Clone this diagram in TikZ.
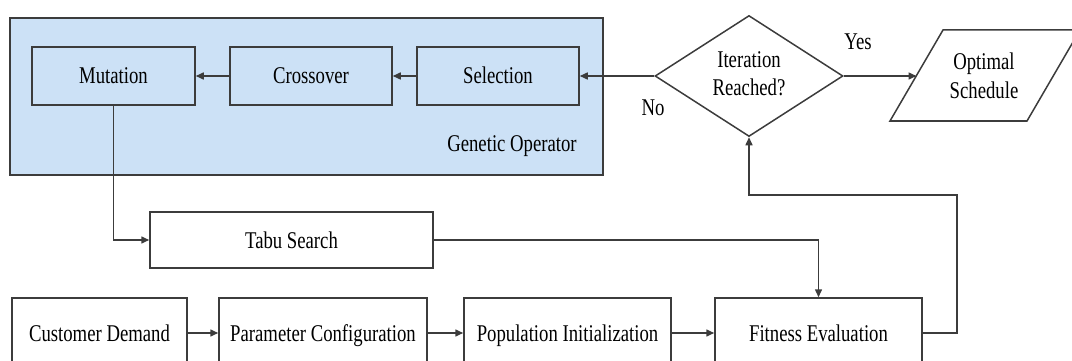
\documentclass[tikz,border=0pt]{standalone}
\usepackage{fontspec}
\usepackage{graphicx}
\setmainfont{Liberation Serif}
\usetikzlibrary{shapes.geometric,arrows.meta}
\definecolor{ln}{HTML}{3C3C3C}
\definecolor{gafill}{HTML}{CCE1F6}
\newcommand{\sq}[1]{\scalebox{0.78}[1]{#1}}
\newcommand{\sqtwo}[2]{\scalebox{0.78}[1]{\begin{tabular}{@{}c@{}}#1\\#2\end{tabular}}}
\tikzset{
  box/.style={draw=ln, line width=1.5pt, rectangle, inner sep=0pt, align=center, font=\fontsize{24}{28}\selectfont, text height=16pt, text depth=0pt},
  conn/.style={draw=ln, line width=1.5pt, -{Triangle[length=8pt,width=7pt]}},
  plain/.style={draw=ln, line width=1.5pt},
  lbl/.style={font=\fontsize{24}{28}\selectfont, inner sep=0pt, text height=16pt, text depth=0pt}
}
\begin{document}
\begin{tikzpicture}[x=1pt,y=-1pt]
\useasboundingbox (0,0) rectangle (1072,361);
\clip (0,0) rectangle (1072,361);
% genetic operator container
\node[draw=ln, line width=1.5pt, fill=gafill, minimum width=593pt, minimum height=157pt, inner sep=0pt] (genop) at (306.5,96.5) {};
\node[lbl] (genlbl) at (512,143) {\sq{Genetic Operator}};
% operators
\node[box, minimum width=163pt, minimum height=58pt] (mut) at (113.5,76) {\sq{Mutation}};
\node[box, minimum width=162pt, minimum height=58pt] (cross) at (311,76) {\sq{Crossover}};
\node[box, minimum width=162pt, minimum height=58pt] (sel) at (498,76) {\sq{Selection}};
% decision
\node[draw=ln, line width=1.5pt, diamond, aspect=1.55, minimum width=188pt, minimum height=121pt, inner sep=0pt, font=\fontsize{24}{28}\selectfont] (dia) at (749,76) {\sqtwo{Iteration}{Reached?}};
% output parallelogram
\coordinate (p1) at (890,121);
\coordinate (p2) at (943,30);
\coordinate (p3) at (1080,30);
\coordinate (p4) at (1027,121);
\draw[plain] (p1) -- (p2) -- (p3) -- (p4) -- cycle;
\node[inner sep=0pt, font=\fontsize{24}{29}\selectfont] (opt) at (984,78) {\sqtwo{Optimal}{Schedule}};
\coordinate (optin) at (916.5,76);
% tabu
\node[box, minimum width=283pt, minimum height=56pt] (tabu) at (291.5,240) {\sq{Tabu Search}};
% bottom row
\node[box, minimum width=175pt, minimum height=70pt] (cd) at (99.5,333) {\sq{Customer Demand}};
\node[box, minimum width=208pt, minimum height=70pt] (pc) at (323,333) {\sq{Parameter Configuration}};
\node[box, minimum width=207pt, minimum height=70pt] (pi) at (567.5,333) {\sq{Population Initialization}};
\node[box, minimum width=207pt, minimum height=70pt] (fe) at (818.5,333) {\sq{Fitness Evaluation}};
% labels
\node[lbl] (yes) at (858,42) {\sq{Yes}};
\node[lbl] (no) at (653,107) {\sq{No}};
% connectors
\draw[conn] (dia.west) -- (sel.east);
\draw[conn] (sel.west) -- (cross.east);
\draw[conn] (cross.west) -- (mut.east);
\draw[conn] (dia.east) -- (optin);
\draw[conn] (mut.south) |- (tabu.west);
\draw[conn] (tabu.east) -| (fe.north);
\coordinate (loop) at (957,195);
\draw[conn] (fe.east) -| (loop) -| (dia.south);
\draw[conn] (cd.east) -- (pc.west);
\draw[conn] (pc.east) -- (pi.west);
\draw[conn] (pi.east) -- (fe.west);
\end{tikzpicture}
\end{document}
